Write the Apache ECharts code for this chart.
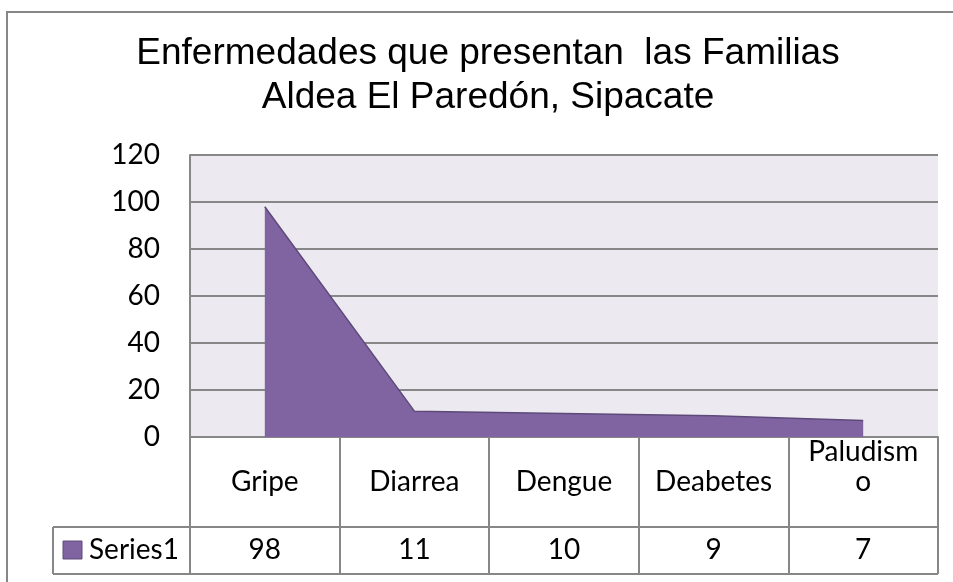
<!DOCTYPE html>
<html>
<head>
<meta charset="utf-8">
<script src="https://cdn.jsdelivr.net/npm/echarts@6/dist/echarts.min.js"></script>
<style>
html,body{margin:0;padding:0;background:#fff;}
#chart{width:953px;height:582px;}
</style>
</head>
<body>
<div id="chart"></div>
<script>
const titleLines = ['Enfermedades que presentan  las Familias', 'Aldea El Paredón, Sipacate'];
const categories = ['Gripe', 'Diarrea', 'Dengue', 'Deabetes', 'Paludismo'];
const values = [98, 11, 10, 9, 7];
const seriesName = 'Series1';
const yTicks = { min: 0, max: 120, interval: 20 };

const gray = '#878787';
const purple = '#8064A2';
const purpleDark = '#5E4A7A';
const tableFont = 'Lato, "Open Sans", sans-serif';

const chart = echarts.init(document.getElementById('chart'), null, { renderer: 'canvas' });
chart.setOption({
  animation: false,
  backgroundColor: '#ffffff',
  title: {
    text: titleLines.join('\n'),
    left: 488,
    top: 32,
    textAlign: 'center',
    padding: 0,
    textStyle: {
      fontFamily: '"Liberation Sans", Arial, sans-serif',
      fontSize: 37,
      fontWeight: 'normal',
      color: '#000',
      lineHeight: 44
    }
  },
  grid: {
    left: 190, right: 15, top: 155, bottom: 145,
    show: true, backgroundColor: '#ECEAF0', borderWidth: 0
  },
  xAxis: [
    {
      type: 'category',
      data: categories,
      boundaryGap: true,
      axisLine: { show: true, lineStyle: { color: gray, width: 2 } },
      axisTick: { show: true, interval: 0, length: 137, lineStyle: { color: gray, width: 2 } },
      axisLabel: {
        interval: 0,
        margin: 60,
        verticalAlign: 'bottom',
        lineHeight: 30,
        fontFamily: tableFont,
        fontSize: 28,
        color: '#000',
        formatter: v => v === 'Paludismo' ? 'Paludism\no' : v
      },
      splitLine: { show: false }
    },
    {
      type: 'category',
      data: values.map(String),
      position: 'bottom',
      offset: 113,
      boundaryGap: true,
      axisLine: { show: false },
      axisTick: { show: false },
      axisLabel: {
        interval: 0,
        margin: 0,
        verticalAlign: 'middle',
        fontFamily: tableFont,
        fontSize: 28,
        color: '#000'
      }
    }
  ],
  yAxis: {
    type: 'value',
    min: yTicks.min, max: yTicks.max, interval: yTicks.interval,
    axisLine: { show: true, lineStyle: { color: gray, width: 2 } },
    axisTick: { show: false },
    axisLabel: { margin: 30, fontFamily: tableFont, fontSize: 28, color: '#000' },
    splitLine: { show: true, lineStyle: { color: gray, width: 2 } }
  },
  series: [{
    name: seriesName,
    type: 'line',
    xAxisIndex: 0,
    data: values,
    symbol: 'none',
    lineStyle: { color: purpleDark, width: 1.5 },
    itemStyle: { color: purple },
    areaStyle: { color: purple, opacity: 1 },
    z: 3
  }],
  graphic: [
    { type: 'line', shape: { x1: 7, y1: 12, x2: 7, y2: 582 }, style: { stroke: gray, lineWidth: 2 } },
    { type: 'line', shape: { x1: 6, y1: 12, x2: 953, y2: 12 }, style: { stroke: gray, lineWidth: 2 } },
    { type: 'line', shape: { x1: 53, y1: 527, x2: 938, y2: 527 }, style: { stroke: gray, lineWidth: 2 } },
    { type: 'line', shape: { x1: 53, y1: 574, x2: 938, y2: 574 }, style: { stroke: gray, lineWidth: 2 } },
    { type: 'line', shape: { x1: 53, y1: 527, x2: 53, y2: 574 }, style: { stroke: gray, lineWidth: 2 } },
    { type: 'rect', shape: { x: 63, y: 541, width: 19, height: 18 }, style: { fill: purple, stroke: purpleDark, lineWidth: 1 } },
    { type: 'text', x: 89, y: 550, style: { text: seriesName, fontFamily: tableFont, fontSize: 28, fill: '#000', textVerticalAlign: 'middle', verticalAlign: 'middle' } }
  ]
});
</script>
</body>
</html>
